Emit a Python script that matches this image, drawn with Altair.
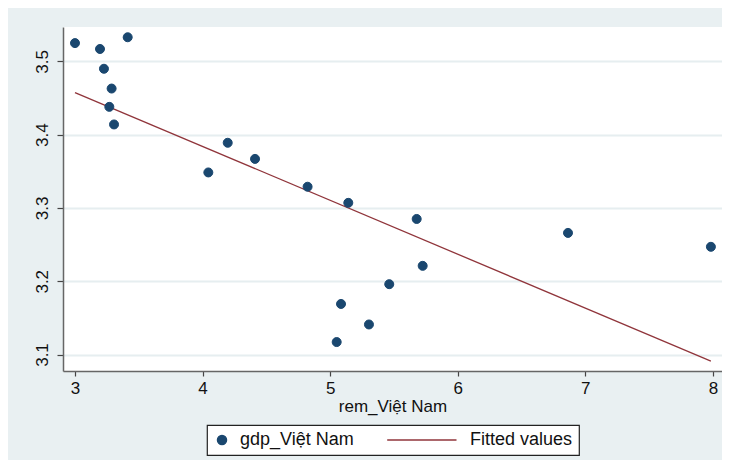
import altair as alt
import pandas as pd

# Data
rem = [3.00, 3.196, 3.227, 3.287, 3.269, 3.306, 3.413, 4.045, 4.197, 4.411,
       4.823, 5.142, 5.678, 5.725, 5.463, 5.085, 5.304, 5.051, 6.864, 7.984]
gdp = [3.525, 3.517, 3.490, 3.463, 3.438, 3.414, 3.533, 3.3485, 3.389, 3.367,
       3.329, 3.307, 3.285, 3.221, 3.196, 3.169, 3.141, 3.117, 3.266, 3.247]
fit_x = [3.00, 7.984]
fit_y = [3.4575, 3.091]

series = ["gdp_Việt Nam", "Fitted values"]
colors = ["#1A476F", "#90353B"]
x_ticks = [3, 4, 5, 6, 7, 8]
y_ticks = [3.1, 3.2, 3.3, 3.4, 3.5]

pts = pd.DataFrame({"rem": rem, "gdp": gdp, "series": series[0]})
fit = pd.DataFrame({"rem": fit_x, "gdp": fit_y, "series": series[1]})

FONT = "Liberation Sans"

circle_path = "M-1,0A1,1 0 1,0 1,0A1,1 0 1,0 -1,0Z"
line_path = "M-14.4,0L1,0"

xs = alt.Scale(domain=[2.906, 8.071], nice=False, zero=False)
ys = alt.Scale(domain=[3.0775, 3.547], nice=False, zero=False)

x_enc = alt.X("rem:Q", scale=xs, title="rem_Việt Nam",
              axis=alt.Axis(values=x_ticks, grid=False, format="d"))
y_enc = alt.Y("gdp:Q", scale=ys, title=None,
              axis=alt.Axis(values=y_ticks, grid=True, format=".1f",
                            labelAngle=270, labelAlign="center",
                            labelBaseline="bottom", labelPadding=6))

legend = alt.Legend(title=None, orient="none", legendX=144, legendY=398,
                    direction="horizontal", symbolSize=81,
                    fillColor="white", strokeColor="#222222",
                    padding=6, labelOffset=9, columnPadding=30,
                    labelExpr="datum.label + (datum.label == 'Fitted values' ? '\u00a0\u00a0' : '')",
                    labelFont=FONT, labelFontSize=18, labelColor="#111111",
                    symbolStrokeWidth=1.5)

fill_scale = alt.Scale(domain=series, range=colors)
shape_scale = alt.Scale(domain=series, range=[circle_path, line_path])

points = alt.Chart(pts).mark_point(filled=True, size=81, opacity=1, strokeWidth=1).encode(
    x=x_enc,
    y=y_enc,
    fill=alt.Fill("series:N", scale=fill_scale, legend=legend),
    stroke=alt.Stroke("series:N", scale=fill_scale, legend=legend),
    shape=alt.Shape("series:N", scale=shape_scale, legend=legend),
)

line = alt.Chart(fit).mark_line(strokeWidth=1.3).encode(
    x=x_enc,
    y=y_enc,
    stroke=alt.Stroke("series:N", scale=fill_scale, legend=legend),
)

chart = alt.layer(line, points).properties(
    width=659, height=344,
    autosize=alt.AutoSizeParams(type="none"),
    padding={"left": 55, "top": 19, "right": 0, "bottom": 89},
    background="#E9F0F2",
).configure_view(
    fill="white", stroke=None
).configure_axis(
    labelFont=FONT, labelFontSize=17, labelColor="#111111",
    titleFont=FONT, titleFontSize=17, titleFontWeight="normal", titleColor="#111111",
    domainColor="#666666", domainWidth=1.5,
    tickColor="#444444", tickSize=6, tickWidth=1.2,
    gridColor="#E6EEF0", gridWidth=1.8,
).configure_axisX(
    labelPadding=4, titlePadding=2, tickSize=5,
).configure_legend(
    strokeWidth=1.2
)

chart.save("out.html", embed_options={"renderer": "svg", "actions": False})
